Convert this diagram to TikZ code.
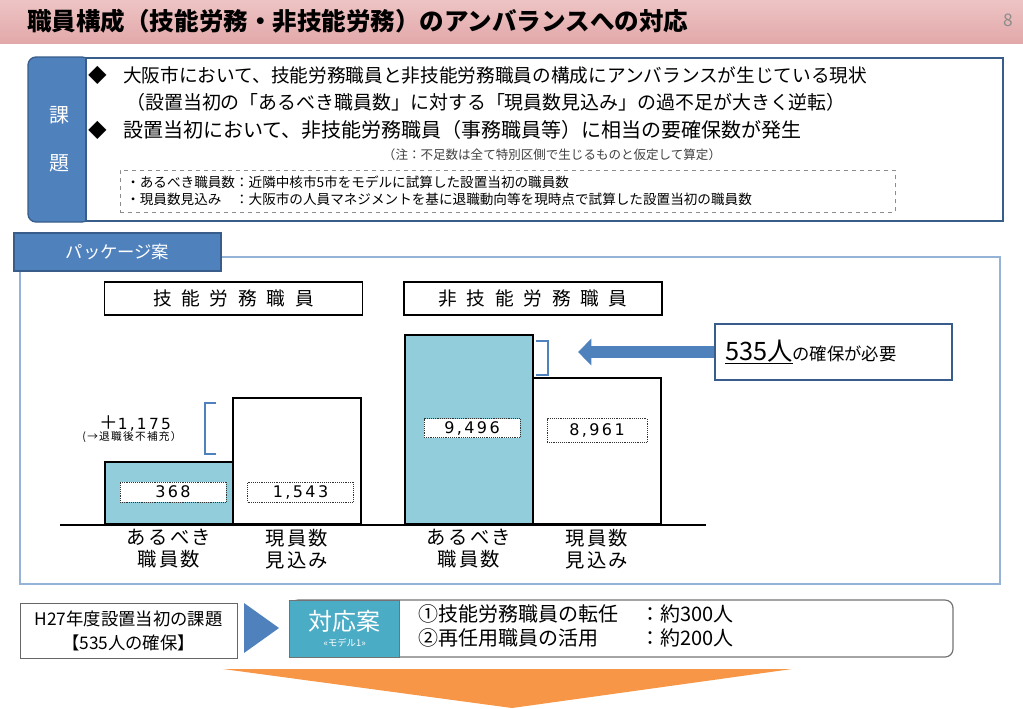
\documentclass[tikz,border=0pt]{standalone}
\usepackage{fontspec}
\setmainfont{Noto Sans CJK JP}
\newfontfamily\numfont[LetterSpace=15]{DejaVu Sans}
\newfontfamily\spaced[LetterSpace=52]{Noto Sans CJK JP}
\newfontfamily\labfont[LetterSpace=12]{Noto Sans CJK JP}
\usetikzlibrary{positioning, arrows.meta}
\definecolor{hdrtop}{RGB}{238,196,196}
\definecolor{hdrmid}{RGB}{250,232,232}
\definecolor{hdrbot}{RGB}{226,168,170}
\definecolor{tabblue}{RGB}{79,129,189}
\definecolor{tabline}{RGB}{56,93,138}
\definecolor{framblue}{RGB}{149,179,215}
\definecolor{barblue}{RGB}{146,205,220}
\definecolor{taioteal}{RGB}{75,172,198}
\definecolor{orangearr}{RGB}{247,150,70}

\begin{document}
\begin{tikzpicture}[x=0.75pt, y=-0.75pt, every node/.style={inner sep=0pt}]
  \tikzstyle{tab} = [rectangle, fill=tabblue, draw=tabline, line width=1pt, text=white]
  \tikzstyle{catbox} = [rectangle, draw=black, line width=1.1pt, minimum width=193.5pt, minimum height=24.75pt, font=\spaced\fontsize{14}{16}\selectfont]
  \tikzstyle{bar} = [rectangle, draw=black, line width=1.5pt, anchor=south west, minimum width=96pt]
  \tikzstyle{val} = [rectangle, draw=black!80, densely dotted, fill=white, font=\numfont\fontsize{12}{14}\selectfont]
  \tikzstyle{barlabel} = [align=center, font=\labfont\fontsize{14.5}{16.5}\selectfont]
  \tikzstyle{brace} = [draw=tabblue, line width=0.8pt]

  \useasboundingbox (0,0) rectangle (1023,708);
  \shade[top color=hdrtop, middle color=hdrmid, bottom color=hdrbot] (0,0) rectangle (1023,43);
  \node[anchor=west, font=\fontsize{18.4}{22}\selectfont\bfseries] (title) at (27,21) {職員構成（技能労務・非技能労務）のアンバランスへの対応};
  \node[text=black!45, font=\fontsize{13}{15}\selectfont] (page) at (1008,20) {8};

  \node[tab, rounded corners=6pt, minimum width=46.5pt, minimum height=123.75pt] (kadai) at (59,139.5) {};
  \node[text=white, font=\fontsize{15}{18}\selectfont] (ka) at (59,115) {課};
  \node[text=white, font=\fontsize{15}{18}\selectfont] (dai) at (59,163) {題};
  \node[rectangle, draw=tabline, line width=1.5pt, fill=white, minimum width=687.75pt, minimum height=122.25pt] (issues) at (544.5,139.5) {};

  \node[font=\fontsize{14}{17}\selectfont] (d1) at (97.5,75) {◆};
  \node[anchor=west, font=\fontsize{14}{17}\selectfont] (t1) at (123,75) {大阪市において、技能労務職員と非技能労務職員の構成にアンバランスが生じている現状};
  \node[anchor=west, font=\fontsize{14.2}{17}\selectfont] (t2) at (126,102) {（設置当初の「あるべき職員数」に対する「現員数見込み」の過不足が大きく逆転）};
  \node[font=\fontsize{14}{17}\selectfont] (d2) at (97.5,130) {◆};
  \node[anchor=west, font=\fontsize{15}{18}\selectfont] (t3) at (123,130) {設置当初において、非技能労務職員（事務職員等）に相当の要確保数が発生};
  \node[text=black!75, font=\fontsize{9.4}{11}\selectfont] (note) at (552,155) {（注：不足数は全て特別区側で生じるものと仮定して算定）};
  \node[draw=black!45, dashed, anchor=north west, minimum height=31.5pt, text width=572.25pt, inner xsep=4.5pt, align=left, font=\fontsize{10.2}{12.75}\selectfont] (defs) at (120,170) {・あるべき職員数：近隣中核市5市をモデルに試算した設置当初の職員数\\・現員数見込み　：大阪市の人員マネジメントを基に退職動向等を現時点で試算した設置当初の職員数};

  \draw[framblue, line width=1pt] (221,257) -- (1000,257) -- (1000,584) -- (20,584) -- (20,271);
  \node[tab, minimum width=155.25pt, minimum height=28.5pt, font=\fontsize{13}{15}\selectfont] (pkg) at (117.5,252) {パッケージ案};

  \node[catbox] (skill) at (233.5,298.5) {技能労務職員};
  \node[catbox, right=30pt of skill] (nonskill) {非技能労務職員};

  \draw[line width=1pt] (60,525) -- (706,525);
  \node[bar, fill=barblue, minimum height=46.5pt] (ideal1) at (104,525) {};
  \node[bar, fill=white, minimum height=94.5pt] (fcst1) at (232,525) {};
  \node[bar, fill=barblue, minimum height=141.75pt] (ideal2) at (404,525) {};
  \node[bar, fill=white, minimum height=109.5pt] (fcst2) at (532,525) {};

  \node[val, minimum width=79.5pt, minimum height=15pt] (v1) at (173,492) {368};
  \node[val, minimum width=79.5pt, minimum height=15pt] (v2) at (300.5,492) {1,543};
  \node[val, minimum width=72pt, minimum height=14.25pt] (v3) at (472,428) {9,496};
  \node[val, minimum width=75pt, minimum height=18pt] (v4) at (597,430.5) {8,961};

  \draw[brace] (216,403) -- (205,403) -- (205,454) -- (216,454);
  \draw[brace] (536,341) -- (548,341) -- (548,375) -- (536,375);
  \node (gap) at (135,423) {\fontsize{14}{15}\selectfont ＋\numfont\fontsize{11.5}{13}\selectfont 1,175};
  \node[font=\labfont\fontsize{8}{10}\selectfont] (gapnote) at (132,437) {(→退職後不補充）};

  \node[barlabel, below=3pt of ideal1] (l1) {あるべき\\職員数};
  \node[barlabel, below=3pt of fcst1] (l2) {現員数\\見込み};
  \node[barlabel, below=3pt of ideal2] (l3) {あるべき\\職員数};
  \node[barlabel, below=3pt of fcst2] (l4) {現員数\\見込み};

  \node[draw=tabline, line width=1.5pt, minimum width=177.75pt, minimum height=42pt, text width=162.75pt, inner xsep=7.5pt, align=left] (need) at (833.5,352) {{\fontsize{19}{22}\selectfont\underline{535人}}{\fontsize{13}{15}\selectfont の確保が必要}};
  \coordinate (tip) at (578,352);
  \draw[tabblue, line width=9pt, -{Triangle[length=10pt, width=19.5pt]}] (need.west) -- (tip);

  \node[draw=black!60, fill=white, minimum width=162.75pt, minimum height=41.25pt, align=center, font=\fontsize{13}{18}\selectfont] (h27) at (128.5,630.5) {H27年度設置当初の課題\\【535人の確保】};
  \fill[tabblue] (244,603) -- (279,628) -- (244,653) -- cycle;
  \node[draw=black!55, line width=0.9pt, rounded corners=6pt, minimum width=497.25pt, minimum height=42.75pt] (plan) at (621.5,628.5) {};
  \node[draw=black!55, fill=taioteal, anchor=west, minimum width=82.5pt, minimum height=42.75pt, text=white, align=center] (taio) at (plan.west) {{\fontsize{18}{20}\selectfont 対応案}\\{\fontsize{7}{9}\selectfont «モデル1»}};
  \node[anchor=west, font=\fontsize{15}{18}\selectfont] (items) at (418,629) {\begin{tabular}{@{}p{166.5pt}@{}l@{}}①技能労務職員の転任 & ：約300人\\②再任用職員の活用 & ：約200人\end{tabular}};
  \fill[orangearr] (223,669) -- (792,669) -- (512,708) -- cycle;
\end{tikzpicture}
\end{document}
